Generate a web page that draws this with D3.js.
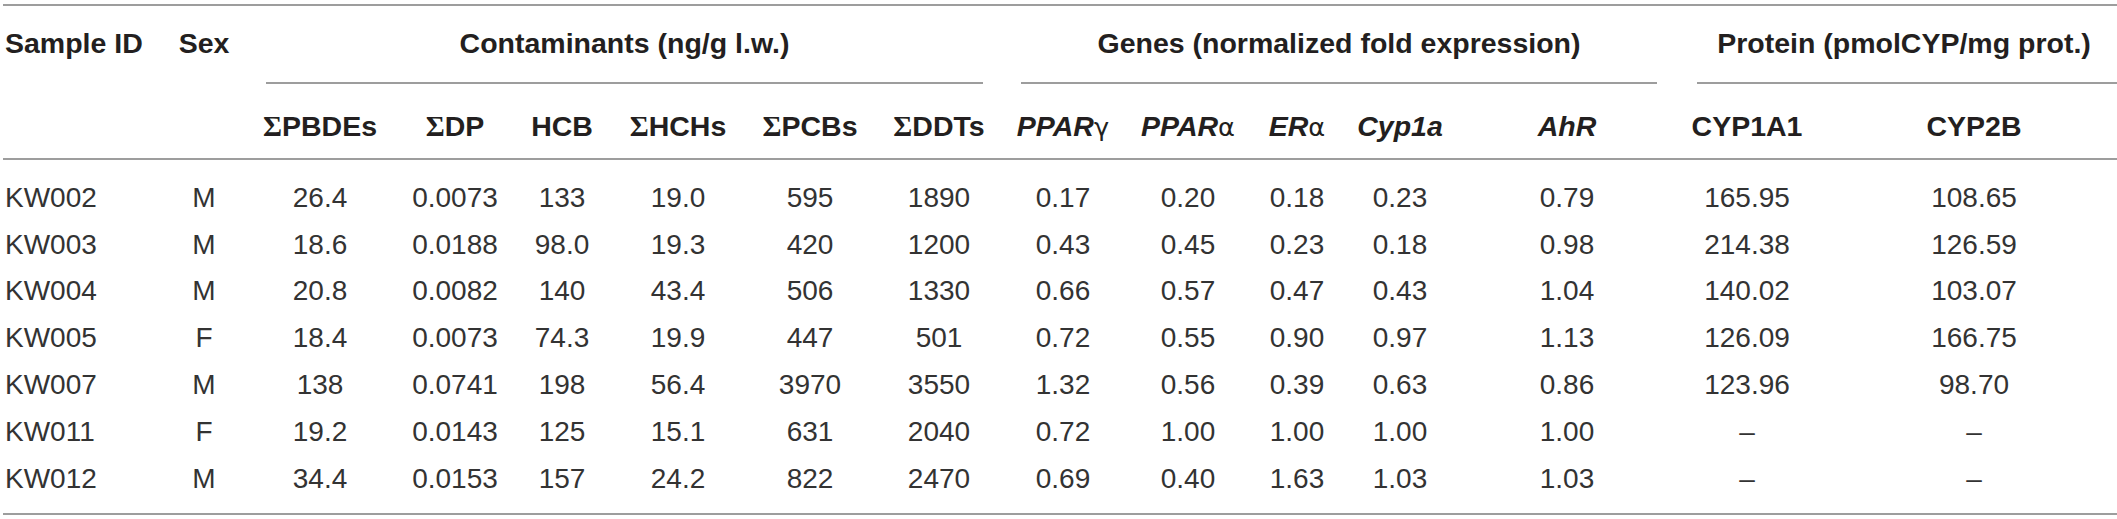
<!DOCTYPE html>
<html>
<head>
<meta charset="utf-8">
<script src="https://cdn.jsdelivr.net/npm/d3@7/dist/d3.min.js"></script>
<style>
  html, body { margin: 0; padding: 0; background: #ffffff; }
  svg { display: block; }
</style>
</head>
<body>
<svg id="chart" width="2117" height="519"></svg>
<script>
// ---------------- DATA ----------------
const sampleIds = ["KW002", "KW003", "KW004", "KW005", "KW007", "KW011", "KW012"];
const sex       = ["M", "M", "M", "F", "M", "F", "M"];

// Contaminants (ng/g l.w.)
const sumPBDEs = [26.4, 18.6, 20.8, 18.4, 138, 19.2, 34.4];
const sumDP    = [0.0073, 0.0188, 0.0082, 0.0073, 0.0741, 0.0143, 0.0153];
const hcb      = [133, 98.0, 140, 74.3, 198, 125, 157];
const sumHCHs  = [19.0, 19.3, 43.4, 19.9, 56.4, 15.1, 24.2];
const sumPCBs  = [595, 420, 506, 447, 3970, 631, 822];
const sumDDTs  = [1890, 1200, 1330, 501, 3550, 2040, 2470];

// Genes (normalized fold expression)
const pparG = [0.17, 0.43, 0.66, 0.72, 1.32, 0.72, 0.69];
const pparA = [0.20, 0.45, 0.57, 0.55, 0.56, 1.00, 0.40];
const erA   = [0.18, 0.23, 0.47, 0.90, 0.39, 1.00, 1.63];
const cyp1a = [0.23, 0.18, 0.43, 0.97, 0.63, 1.00, 1.03];
const ahr   = [0.79, 0.98, 1.04, 1.13, 0.86, 1.00, 1.03];

// Protein (pmolCYP/mg prot.)
const cyp1a1 = [165.95, 214.38, 140.02, 126.09, 123.96, null, null];
const cyp2b  = [108.65, 126.59, 103.07, 166.75, 98.70, null, null];

// Header labels
const groupLabels = ["Contaminants (ng/g l.w.)", "Genes (normalized fold expression)", "Protein (pmolCYP/mg prot.)"];
const columnKeys = ["id", "sex", "pbde", "dp", "hcb", "hch", "pcb", "ddt", "pparg", "ppara", "era", "cyp1a", "ahr", "cyp1a1", "cyp2b"];
// label parts: [sigma prefix, text, greek suffix]
const columnLabels = [
  ["", "Sample ID", ""], ["", "Sex", ""],
  ["\u03A3", "PBDEs", ""], ["\u03A3", "DP", ""], ["", "HCB", ""], ["\u03A3", "HCHs", ""], ["\u03A3", "PCBs", ""], ["\u03A3", "DDTs", ""],
  ["", "PPAR", "\u03B3"], ["", "PPAR", "\u03B1"], ["", "ER", "\u03B1"], ["", "Cyp1a", ""], ["", "AhR", ""],
  ["", "CYP1A1", ""], ["", "CYP2B", ""]
];
const italicCols = ["pparg", "ppara", "era", "cyp1a", "ahr"];

// ---------------- LAYOUT ----------------
const W = 2117, H = 519;
const colX = d3.scaleOrdinal()
  .domain(columnKeys)
  .range([5, 204, 320, 455, 562, 678, 810, 939, 1063, 1188, 1297, 1400, 1567, 1747, 1974]);
const groupSpan = d3.scaleOrdinal()
  .domain(groupLabels)
  .range([[266, 983], [1021, 1657], [1697, 2117]]);
const rowY = d3.scalePoint().domain(sampleIds).range([197, 478]);

const y = { top: 5, group: 43, groupLine: 83, sub: 126, headLine: 159, bottom: 514 };
const lineColor = "#7d7d7d";
const textColor = "#231f20";
const font = "'Liberation Sans', Arial, Helvetica, sans-serif";
const headSize = 28.5, bodySize = 28;

const fmt3 = d3.format(".3r"), fmt4f = d3.format(".4f"), fmt2f = d3.format(".2f");
const columns = {
  id: sampleIds.map(d => d), sex: sex.map(d => d),
  pbde: sumPBDEs.map(fmt3), dp: sumDP.map(fmt4f), hcb: hcb.map(fmt3), hch: sumHCHs.map(fmt3),
  pcb: sumPCBs.map(fmt3), ddt: sumDDTs.map(fmt3),
  pparg: pparG.map(fmt2f), ppara: pparA.map(fmt2f), era: erA.map(fmt2f), cyp1a: cyp1a.map(fmt2f), ahr: ahr.map(fmt2f),
  cyp1a1: cyp1a1.map(v => v == null ? "\u2013" : fmt2f(v)),
  cyp2b: cyp2b.map(v => v == null ? "\u2013" : fmt2f(v))
};

// ---------------- DRAW ----------------
const svg = d3.select("#chart").attr("viewBox", `0 0 ${W} ${H}`);
svg.append("rect").attr("width", W).attr("height", H).attr("fill", "#fff");

// full-width rules
svg.selectAll("line.rule").data([y.top, y.headLine, y.bottom]).join("line")
  .attr("class", "rule")
  .attr("x1", 3).attr("x2", W).attr("y1", d => d).attr("y2", d => d)
  .attr("stroke", lineColor).attr("stroke-width", 1.6);

const anchorFor = k => (k === "id" ? "start" : "middle");
const label = k => columnLabels[columnKeys.indexOf(k)];

// top-row headers
svg.selectAll("text.toph").data(["id", "sex"]).join("text")
  .attr("class", "toph")
  .attr("x", k => colX(k)).attr("y", y.group).attr("dy", "0.35em")
  .attr("text-anchor", anchorFor)
  .attr("font-family", font).attr("font-weight", "bold").attr("font-size", headSize)
  .attr("fill", textColor)
  .text(k => label(k)[1]);

svg.selectAll("text.grp").data(groupLabels).join("text")
  .attr("class", "grp")
  .attr("x", g => (groupSpan(g)[0] + groupSpan(g)[1]) / 2 + (g === groupLabels[2] ? -3 : 0))
  .attr("y", y.group).attr("dy", "0.35em")
  .attr("text-anchor", "middle")
  .attr("font-family", font).attr("font-weight", "bold").attr("font-size", headSize)
  .attr("fill", textColor)
  .text(g => g);

svg.selectAll("line.grpline").data(groupLabels).join("line")
  .attr("class", "grpline")
  .attr("x1", g => groupSpan(g)[0]).attr("x2", g => groupSpan(g)[1])
  .attr("y1", y.groupLine).attr("y2", y.groupLine)
  .attr("stroke", lineColor).attr("stroke-width", 1.6);

// sub headers
const subKeys = columnKeys.slice(2);
const sub = svg.selectAll("text.subh").data(subKeys).join("text")
  .attr("class", "subh")
  .attr("x", k => colX(k)).attr("y", y.sub).attr("dy", "0.35em")
  .attr("text-anchor", "middle")
  .attr("font-family", font).attr("font-weight", "bold").attr("font-size", headSize)
  .attr("font-style", k => italicCols.includes(k) ? "italic" : "normal")
  .attr("fill", textColor);
sub.filter(k => label(k)[0] !== "")
  .append("tspan")
  .attr("font-family", "'Liberation Serif', 'Times New Roman', serif")
  .attr("font-size", headSize * 1.02)
  .text(k => label(k)[0]);
sub.append("tspan").text(k => label(k)[1]);
sub.filter(k => label(k)[2] !== "")
  .append("tspan")
  .attr("font-weight", "normal").attr("font-style", "normal")
  .attr("font-family", "'DejaVu Sans', sans-serif")
  .attr("font-size", headSize * 0.9)
  .text(k => label(k)[2]);

// body rows
const rows = svg.selectAll("g.row").data(sampleIds).join("g")
  .attr("class", "row")
  .attr("transform", id => `translate(0,${rowY(id)})`);

rows.selectAll("text").data((id, i) => columnKeys.map(k => ({ k, v: columns[k][i] }))).join("text")
  .attr("x", d => colX(d.k)).attr("dy", "0.35em")
  .attr("text-anchor", d => anchorFor(d.k))
  .attr("font-family", font).attr("font-size", bodySize)
  .attr("fill", "#333333")
  .text(d => d.v);
</script>
</body>
</html>
